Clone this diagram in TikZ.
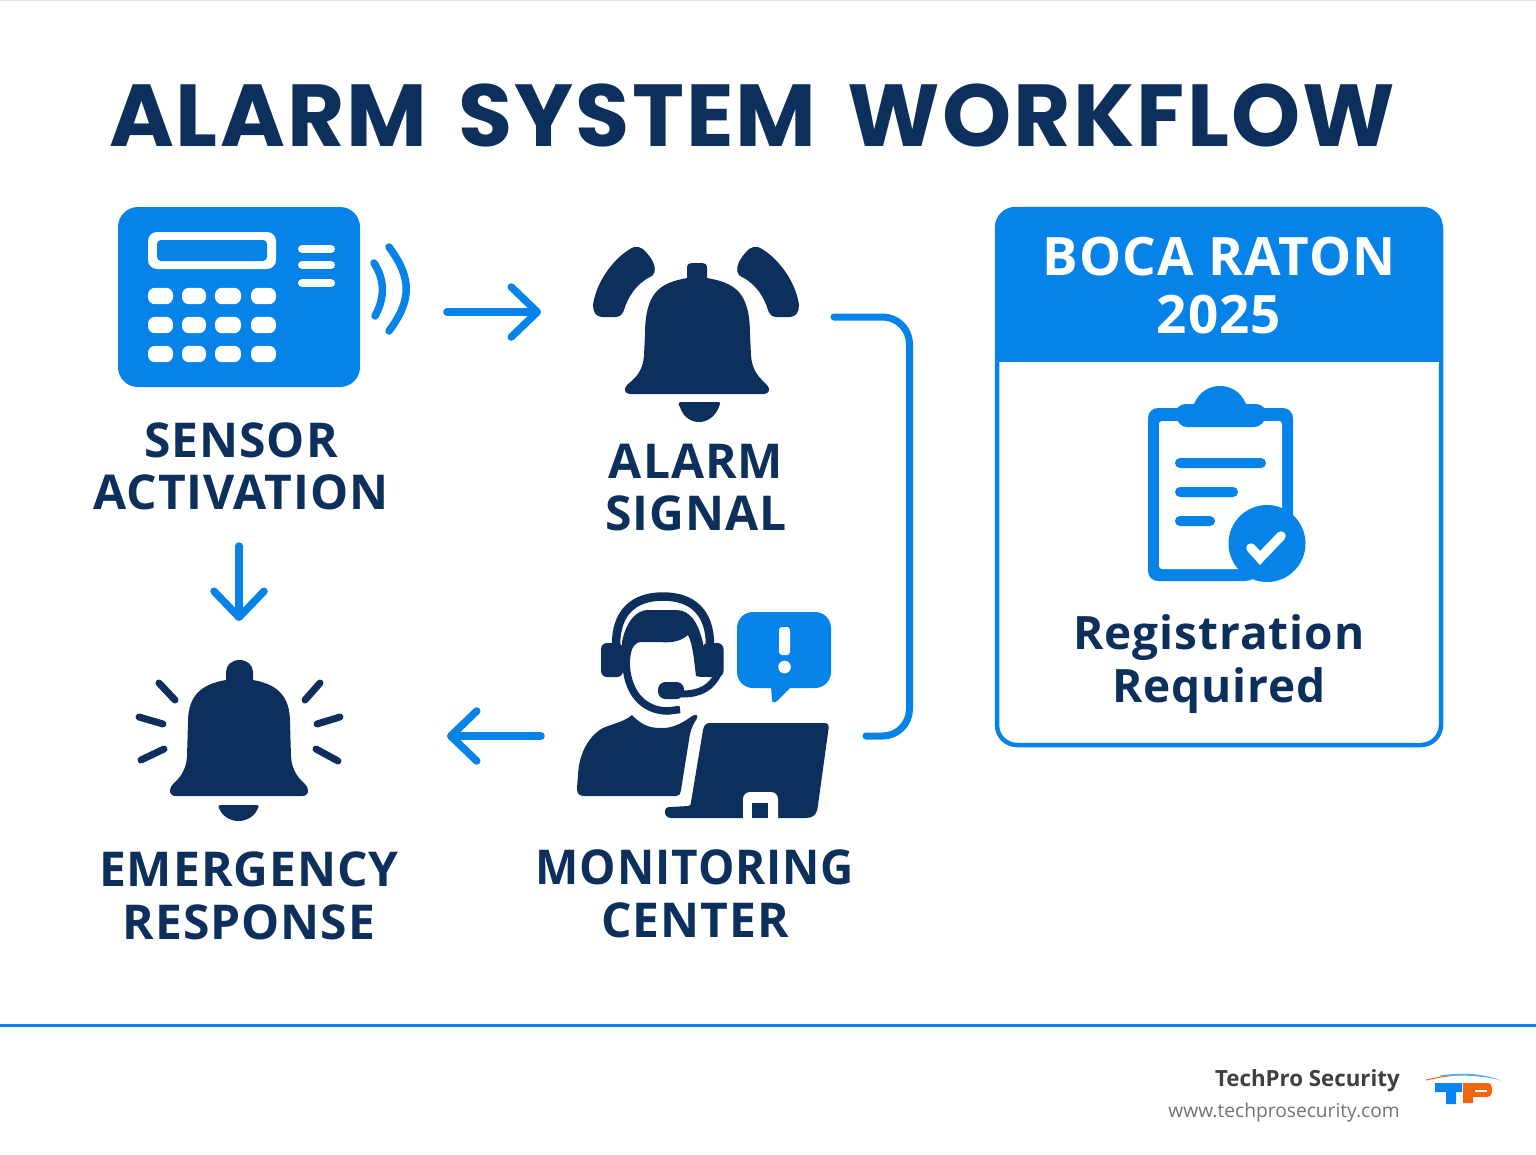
\documentclass[tikz,border=0pt]{standalone}
\usepackage{fontspec}
\usetikzlibrary{arrows.meta}
\setmainfont{Open Sans}
\newfontfamily\titlefont[LetterSpace=2.4,WordSpace=1.5]{Poppins}
\newfontfamily\labelfont[LetterSpace=2]{Open Sans}
\newfontfamily\footfont{Open Sans}
\definecolor{navy}{HTML}{0D2F5B}
\definecolor{azure}{HTML}{0683E8}
\definecolor{rulecol}{HTML}{0B80F0}
\definecolor{logoblue}{HTML}{0A84F5}
\definecolor{logoorange}{HTML}{F2650F}
\tikzset{
  x=1pt,y=-1pt,
  stepLabel/.style={font=\labelfont\bfseries\fontsize{48}{52.5}\selectfont,text=navy,align=center,inner sep=0pt},
  navyfill/.style={fill=navy,draw=none},
  bluefill/.style={fill=azure,draw=none},
  flowarrow/.style={draw=azure,line width=7.5pt,line cap=round,-{Straight Barb[length=26pt,width=50pt,round,line width=7.5pt]}},
  link/.style={draw=azure,line width=7pt,line cap=round,rounded corners=27pt},
  ray/.style={draw=navy,line width=7pt,line cap=round},
  wave/.style={draw=azure,line width=7.5pt,line cap=round},
  whitefill/.style={fill=white,draw=none},
}
\begin{document}
\begin{tikzpicture}
\useasboundingbox (0,0) rectangle (1536,1154);
\fill[white] (0,0) rectangle (1536,1154);
\draw[black!10,line width=1pt] (0,0.5) -- (1536,0.5);

% title
\node[inner sep=0pt,text=navy,font=\titlefont\bfseries\fontsize{88}{90}\selectfont] (title) at (752,115) {ALARM SYSTEM WORKFLOW};

% keypad
\fill[bluefill,rounded corners=20pt] (118,207) rectangle (360,387);
\fill[whitefill,rounded corners=9pt] (148,232) rectangle (276,269);
\fill[bluefill,rounded corners=4pt] (157,240) rectangle (267,261);
\foreach \yy in {249,265,283}{\fill[whitefill,rounded corners=3.7pt] (298,\yy-3.8) rectangle (335,\yy+3.8);}
\foreach \yy in {296,325,354}{
  \foreach \xa/\xb in {148/173,182/206,215/241,251/276}{
    \fill[whitefill,rounded corners=7pt] (\xa,\yy-8.2) rectangle (\xb,\yy+8.2);}}
\draw[wave] (389,247) .. controls (412,278) and (412,300) .. (389,331);
\draw[wave] (374,263) .. controls (385,280) and (385,298) .. (375,316);

% alarm bell
\fill[navyfill] (687,278) -- (687,268) .. controls (687,264) and (689,263) .. (692,263) -- (702,263) .. controls (705,263) and (707,264) .. (707,268) -- (707,278)
  .. controls (735,283) and (750,292) .. (750,335) -- (751,355) .. controls (752,372) and (760,378) .. (767,385)
  .. controls (771,389) and (769,394) .. (764,394) -- (630,394) .. controls (625,394) and (623,389) .. (627,385)
  .. controls (635,378) and (643,372) .. (644,355) -- (645,335) .. controls (645,292) and (660,283) .. (687,278) -- cycle;
\fill[navyfill] (681,402) -- (718,402) .. controls (721,402) and (720,405) .. (719,407) .. controls (715,417) and (707,422) .. (699,422)
  .. controls (691,422) and (683,417) .. (680,407) .. controls (678,405) and (678,402) .. (681,402) -- cycle;
\foreach \mir/\off in {1/0,-1/1392}{
\begin{scope}[shift={(\off,0)},xscale=\mir]
\fill[navyfill] (593,305) .. controls (596,283) and (612,260) .. (630,249) .. controls (636,245) and (642,247) .. (646,252)
  .. controls (651,258) and (656,264) .. (654.5,272) .. controls (654,275) and (652,276) .. (650,277)
  .. controls (636,284) and (628,297) .. (624,310) .. controls (622,315) and (620,317) .. (615,317) -- (602,317) .. controls (596,317) and (593,312) .. (593,305) -- cycle;
\end{scope}}

% link from alarm to monitoring
\coordinate (linkA) at (834,317);
\coordinate (linkB) at (909.5,317);
\coordinate (linkC) at (909.5,736);
\coordinate (linkD) at (866,736);
\draw[link] (linkA) -- (linkB) -- (linkC) -- (linkD);

% flow arrows
\coordinate (keyOut) at (447,312);
\coordinate (bellIn) at (541,312);
\draw[flowarrow] (keyOut) -- (bellIn);
\coordinate (senseOut) at (239,546);
\coordinate (emIn) at (239,621);
\draw[flowarrow] (senseOut) -- (emIn);
\coordinate (monOut) at (541,736);
\coordinate (emIn2) at (447,736);
\draw[flowarrow] (monOut) -- (emIn2);

% emergency bell
\fill[navyfill] (226,680) -- (226,672) .. controls (226,665) and (232,660) .. (239.5,660) .. controls (247,660) and (253,665) .. (253,672) -- (253,680)
  .. controls (276,684) and (290,695) .. (290,722) -- (291,757) .. controls (292,770) and (298,778) .. (305,784)
  .. controls (310,790) and (309,796) .. (302,796) -- (176,796) .. controls (169,796) and (168,790) .. (173,784)
  .. controls (180,778) and (186,770) .. (187,757) -- (188,722) .. controls (188,695) and (202,684) .. (226,680) -- cycle;
\fill[navyfill] (221,805) -- (257,805) .. controls (259,805) and (259,807) .. (258,808) .. controls (255,816) and (247,821) .. (238.5,821)
  .. controls (230,821) and (222,816) .. (219,808) .. controls (218,807) and (218,805) .. (221,805) -- cycle;
\draw[ray] (159,683) -- (175,700);
\draw[ray] (139,717) -- (163,724);
\draw[ray] (141,760) -- (164,749);
\draw[ray] (320,683) -- (305,700);
\draw[ray] (340,717) -- (317,724);
\draw[ray] (338,761) -- (316,749);

% operator
\draw[navy,line width=8.5pt] (616,645) .. controls (616,612) and (634,596.5) .. (663,596.5) .. controls (692,596.5) and (710,612) .. (710,645);
\fill[navyfill] (622,642) .. controls (626,622) and (636,610) .. (648,610) -- (676,610) .. controls (690,610) and (698,622) .. (703,643)
  -- (706,677) .. controls (703,677) and (699,677) .. (696,676) .. controls (694,660) and (693,645) .. (688,635)
  .. controls (680,642) and (670,643) .. (660,642) -- (642,642) .. controls (634,642) and (631,648) .. (630,660) -- (622,660) -- cycle;
\fill[navyfill,rounded corners=6pt] (601,643) rectangle (623,677);
\fill[navyfill,rounded corners=6pt] (702,643) rectangle (723.5,677);
\draw[navy,line width=7.5pt] (626,660) .. controls (626,692) and (643,711) .. (668,711) -- (680,709.5);
\draw[navy,line width=7pt] (718,674) .. controls (711,688) and (700,694) .. (682,694);
\fill[navyfill,rounded corners=7.5pt] (658,682) rectangle (684,699);

\fill[navyfill] (632,715) .. controls (644,728) and (654,728) .. (663,728) .. controls (674,728) and (684,722) .. (692,716)
  .. controls (697,713) and (699,716) .. (696,720) .. controls (692,726) and (690,732) .. (689,740)
  -- (681,790) .. controls (680,795) and (679,796) .. (676,796) -- (585,796) .. controls (579,796) and (577,794) .. (577,788)
  -- (578,775) .. controls (579,752) and (590,735) .. (603,728) .. controls (612,724) and (624,722) .. (632,715) -- cycle;
\fill[navyfill] (703,730) .. controls (704,725) and (706,723) .. (710,723) -- (824,723) .. controls (828,723) and (829,725) .. (828.5,729)
  -- (818,805) .. controls (817,815) and (813,818) .. (806,818) -- (671,818) .. controls (666,818) and (665,814) .. (665,812)
  .. controls (665,808) and (667,807) .. (671,807) -- (688,806) .. controls (690,806) and (691,805) .. (691,802) -- cycle;
\fill[whitefill,rounded corners=7pt] (743,825) -- (743,792) -- (778,792) -- (778,825) -- cycle;
\fill[navyfill] (752,803) rectangle (768,818);

% speech bubble
\fill[bluefill,rounded corners=16pt] (737,612) rectangle (831,688);
\fill[bluefill] (771,686) -- (772,700) .. controls (772,703) and (775,703) .. (777,701) -- (792,686) -- cycle;
\fill[whitefill,rounded corners=3pt] (779,627) rectangle (790,655);
\fill[whitefill] (784.5,667) circle (6.3pt);

% registration panel
\coordinate (panelTL) at (997,209);
\coordinate (panelBR) at (1441,745);
\begin{scope}
\draw[azure,line width=4.5pt,rounded corners=20pt] (panelTL) rectangle (panelBR);
\clip[rounded corners=20pt] (995,207) rectangle (1443,747);
\fill[bluefill] (995,207) rectangle (1443,362);
\end{scope}
\node[inner sep=0pt,text=white,align=center,font=\labelfont\bfseries\fontsize{53}{58}\selectfont] (boca) at (1219,285.5) {BOCA RATON\\2025};

% clipboard
\fill[bluefill,rounded corners=10pt] (1148,408) -- (1293,408) -- (1293,525) -- (1255,581) -- (1148,581) -- cycle;
\fill[whitefill,rounded corners=3pt] (1159,421) rectangle (1282,569);
\fill[bluefill] (1175,414) .. controls (1176,409) and (1179,404) .. (1186,404) -- (1194,404) .. controls (1199,392) and (1209,386) .. (1220,386)
  .. controls (1231,386) and (1241,392) .. (1246,404) -- (1256,404) .. controls (1262,404) and (1266,409) .. (1267,414)
  .. controls (1264,423) and (1260,427) .. (1254,427) -- (1187,427) .. controls (1181,427) and (1178,423) .. (1175,414) -- cycle;
\fill[bluefill,rounded corners=5pt] (1175,458) rectangle (1266,468);
\fill[bluefill,rounded corners=5pt] (1175,487) rectangle (1238,497);
\fill[bluefill,rounded corners=5pt] (1175,516) rectangle (1215,526);
\fill[bluefill] (1267,543.5) circle (38.5pt);
\draw[white,line width=9.5pt,line cap=round,line join=miter] (1251,548) -- (1260,558) -- (1281,536);

% labels
\node[stepLabel] (sensor) at (241,466.5) {SENSOR\\ACTIVATION};
\node[stepLabel] (alarm) at (696,487.5) {ALARM\\SIGNAL};
\node[stepLabel] (emergency) at (249,896) {EMERGENCY\\RESPONSE};
\node[stepLabel] (monitoring) at (695,894) {\scalebox{0.955}[1]{MONITORING}\\CENTER};
\node[inner sep=0pt,text=navy,align=center,font=\labelfont\bfseries\fontsize{46}{53}\selectfont] (regist) at (1219,664) {Registration\\Required};

% footer
\coordinate (ruleL) at (0,1025.5);
\coordinate (ruleR) at (1536,1025.5);
\draw[rulecol,line width=3pt] (ruleL) -- (ruleR);
\node[inner sep=0pt,anchor=base east,text=black!75,font=\footfont\bfseries\fontsize{22.3}{26}\selectfont] (brand) at (1400,1086) {TechPro Security};
\node[inner sep=0pt,anchor=base east,text=black!55,font=\footfont\fontsize{19.2}{24}\selectfont] (site) at (1400,1117) {www.techprosecurity.com};

% logo
\fill[logoorange] (1426,1079.5) .. controls (1445,1075) and (1460,1074) .. (1472,1074.5) .. controls (1460,1075) and (1445,1076) .. (1426,1080.5) -- cycle;
\fill[logoblue!70] (1440,1075.5) .. controls (1465,1072) and (1485,1074) .. (1501,1080.5) .. controls (1485,1076) and (1465,1074.5) .. (1440,1076.5) -- cycle;
\fill[logoblue] (1435,1083) -- (1462,1083) -- (1462,1092) -- (1456,1092) -- (1456,1104) -- (1446,1104) -- (1446,1092) -- (1435,1092) -- cycle;
\fill[logoorange] (1463,1083) -- (1487,1083) .. controls (1491,1083) and (1492,1085) .. (1492,1088) -- (1492,1091) .. controls (1492,1095) and (1490,1097) .. (1486,1097) -- (1473,1097) -- (1473,1103) -- (1463,1103) -- cycle;
\fill[white] (1475,1089.5) rectangle (1487,1092);
\end{tikzpicture}
\end{document}
